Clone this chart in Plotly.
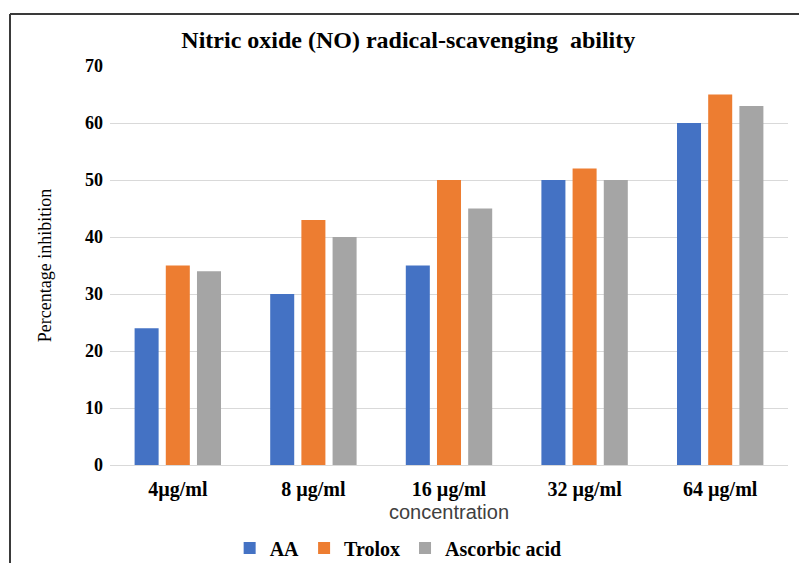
import plotly.graph_objects as go

categories = ["4µg/ml", "8 µg/ml", "16 µg/ml", "32 µg/ml", "64 µg/ml"]
aa = [24, 30, 35, 50, 60]
trolox = [35, 43, 50, 52, 65]
ascorbic = [34, 40, 45, 50, 63]
series_names = ["AA", "Trolox", "Ascorbic acid"]
colors = ["#4472C4", "#ED7D31", "#A5A5A5"]
y_ticks = [0, 10, 20, 30, 40, 50, 60, 70]

serif = "Liberation Serif, Times New Roman, serif"

fig = go.Figure()
for name, vals, col in zip(series_names, [aa, trolox, ascorbic], colors):
    fig.add_trace(go.Bar(x=categories, y=vals, name=name, marker_color=col,
                         marker_line_width=0))

fig.update_layout(
    width=799, height=563,
    margin=dict(l=110, r=11, t=66, b=98, autoexpand=False),
    paper_bgcolor="white", plot_bgcolor="white",
    barmode="group", bargap=0.31, bargroupgap=0.23,
    title=dict(text="Nitric oxide (NO) radical-scavenging  ability",
               font=dict(family=serif, size=24, color="black", weight="bold"),
               x=0.44, xref="paper", xanchor="center",
               y=1 - 40/563, yanchor="middle"),
    font=dict(family=serif, color="black"),
    legend=dict(orientation="h", x=0.425, xanchor="center",
                yref="container", y=15/563, yanchor="middle",
                font=dict(family=serif, size=20, color="black", weight="bold"),
                itemwidth=30, tracegroupgap=0, traceorder="normal"),
    xaxis=dict(showgrid=False, showline=False, ticks="", automargin=False,
               ticklabelstandoff=10,
               tickfont=dict(family=serif, size=20, color="black", weight="bold"),
               title=dict(text="concentration",
                          font=dict(family="Liberation Sans, Arial, sans-serif", size=20, color="#404040"),
                          standoff=0)),
    yaxis=dict(range=[0, 70], tickvals=y_ticks, showgrid=True, gridcolor="#D9D9D9",
               gridwidth=1, zeroline=True, zerolinecolor="#D9D9D9", zerolinewidth=1,
               showline=False, ticks="", ticklabelstandoff=6, automargin=False,
               tickfont=dict(family=serif, size=18, color="black", weight="bold"),
               title=dict(text="Percentage inhibition",
                          font=dict(family=serif, size=18, color="black"),
                          standoff=28)),
)

# outer frame (left and top edges visible in the picture)
frame_top = (465 - 14) / 399
frame_left = (10 - 110) / 678
frame_right = (799 - 110) / 678
frame_bottom = (465 - 563) / 399
fig.add_shape(type="line", xref="paper", yref="paper",
              x0=frame_left, x1=frame_left, y0=frame_bottom, y1=frame_top,
              line=dict(color="#3a3a3a", width=2), layer="above")
fig.add_shape(type="line", xref="paper", yref="paper",
              x0=frame_left, x1=frame_right, y0=frame_top, y1=frame_top,
              line=dict(color="#3a3a3a", width=2), layer="above")

fig.write_html("out.html")
